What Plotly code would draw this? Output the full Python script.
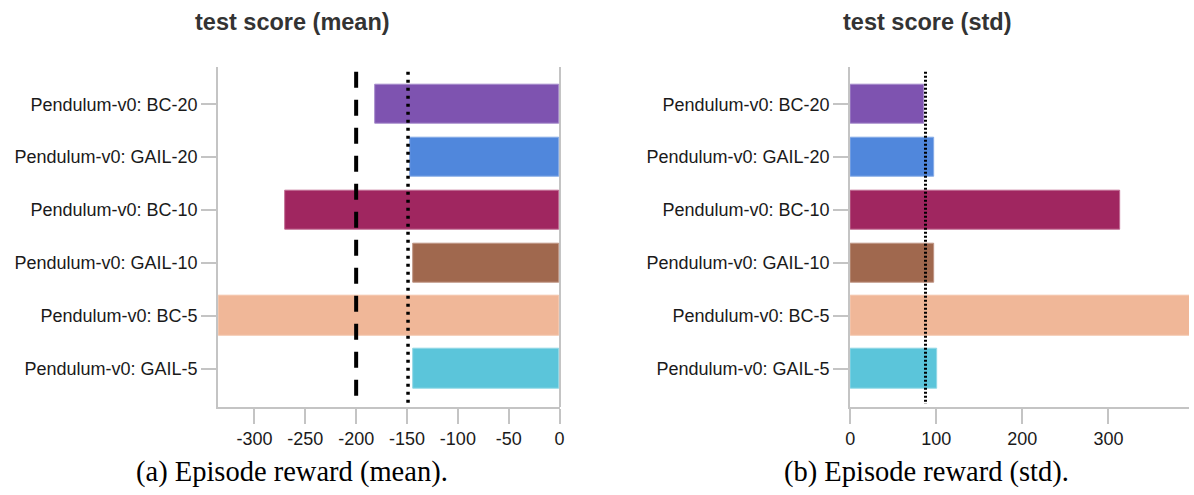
import plotly.graph_objects as go

# Pendulum-v0 evaluation results per method / number of expert trajectories
methods = [
    "Pendulum-v0: BC-20",
    "Pendulum-v0: GAIL-20",
    "Pendulum-v0: BC-10",
    "Pendulum-v0: GAIL-10",
    "Pendulum-v0: BC-5",
    "Pendulum-v0: GAIL-5",
]
score_mean = [-181, -147, -270, -144, -400, -144]
score_std = [86.5, 98, 314, 98, 450, 100.5]
bar_colors = ["#7e53b0", "#5087dc", "#a02660", "#a0684e", "#f0b798", "#5bc5da"]
bar_edges = ["#a68bcb", "#86abe6", "#c06a92", "#bf9584", "#f3c4aa", "#92d8e6"]

# reference levels
mean_ref_dashed = -200
mean_ref_dotted = -149
std_ref_dotted = 87.5

mean_ticks = [-300, -250, -200, -150, -100, -50, 0]
std_ticks = [0, 100, 200, 300]

W, H = 1194, 495
LABEL_FONT = dict(family="Liberation Sans, Arial, sans-serif", size=18, color="#1a1a1a")
AXIS_GREY = "#c4c4c4"


def px_x(v):
    return v / W


def px_y(v):
    return 1 - v / H


fig = go.Figure()

fig.add_trace(go.Bar(
    x=score_mean, y=methods, orientation="h", width=0.75,
    marker=dict(color=bar_colors, line=dict(color=bar_edges, width=1)),
    xaxis="x", yaxis="y", showlegend=False,
))
fig.add_trace(go.Bar(
    x=score_std, y=methods, orientation="h", width=0.75,
    marker=dict(color=bar_colors, line=dict(color=bar_edges, width=1)),
    xaxis="x2", yaxis="y2", showlegend=False,
))

y_top, y_bot = 66.7, 406.7
y_range = [5.712, -0.708]
y_dom = [px_y(y_bot), px_y(y_top)]

common_y = dict(
    type="category", categoryorder="array", categoryarray=methods,
    range=y_range, showline=True, linecolor=AXIS_GREY, linewidth=2,
    ticks="outside", ticklen=15, tickwidth=2, tickcolor=AXIS_GREY,
    tickfont=LABEL_FONT, showgrid=False, zeroline=False,
)
common_x = dict(
    showline=True, linecolor=AXIS_GREY, linewidth=2,
    ticks="outside", ticklen=15, tickwidth=2, tickcolor=AXIS_GREY,
    tickfont=LABEL_FONT, showgrid=False,
)

fig.update_layout(
    width=W, height=H,
    margin=dict(l=0, r=0, t=0, b=0),
    plot_bgcolor="white", paper_bgcolor="white",
    bargap=0,
    xaxis=dict(domain=[px_x(215), px_x(559.3)], range=[-335.6, 0],
               tickvals=mean_ticks, ticktext=[str(t) for t in mean_ticks],
               zeroline=True, zerolinecolor=AXIS_GREY, zerolinewidth=2,
               anchor="y", **common_x),
    yaxis=dict(domain=y_dom, anchor="x", **common_y),
    xaxis2=dict(domain=[px_x(852.3), 1.0], range=[0, 393.6],
                tickvals=std_ticks, ticktext=[str(t) for t in std_ticks],
                zeroline=False, anchor="y2", **common_x),
    yaxis2=dict(domain=y_dom, anchor="x2", **common_y),
)

# reference rules
line_y0, line_y1 = -0.614, 5.66
fig.add_shape(type="line", xref="x", yref="y",
              x0=mean_ref_dashed, x1=mean_ref_dashed, y0=line_y0, y1=line_y1,
              line=dict(color="black", width=4, dash="16px,12px"))
fig.add_shape(type="line", xref="x", yref="y",
              x0=mean_ref_dotted, x1=mean_ref_dotted, y0=line_y0, y1=line_y1,
              line=dict(color="black", width=3.5, dash="3px,5px"))
fig.add_shape(type="line", xref="x2", yref="y2",
              x0=std_ref_dotted, x1=std_ref_dotted, y0=line_y0, y1=line_y1,
              line=dict(color="black", width=3, dash="2px,2px"))

# chart titles
title_font = dict(family="Liberation Sans, Arial, sans-serif", size=23.5, color="#333333")
for text, cx in [("<b>test score (mean)</b>", 290), ("<b>test score (std)</b>", 930)]:
    fig.add_annotation(text=text, x=px_x(cx), y=px_y(22), xref="paper", yref="paper",
                       xanchor="center", yanchor="middle", showarrow=False, font=title_font)

# sub-figure captions
cap_font = dict(family="Liberation Serif, Times New Roman, serif", size=28.5, color="black")
for text, cx in [("(a) Episode reward (mean).", 289), ("(b) Episode reward (std).", 929)]:
    fig.add_annotation(text=text, x=px_x(cx), y=px_y(472), xref="paper", yref="paper",
                       xanchor="center", yanchor="middle", showarrow=False, font=cap_font)

fig.write_html("out.html")
